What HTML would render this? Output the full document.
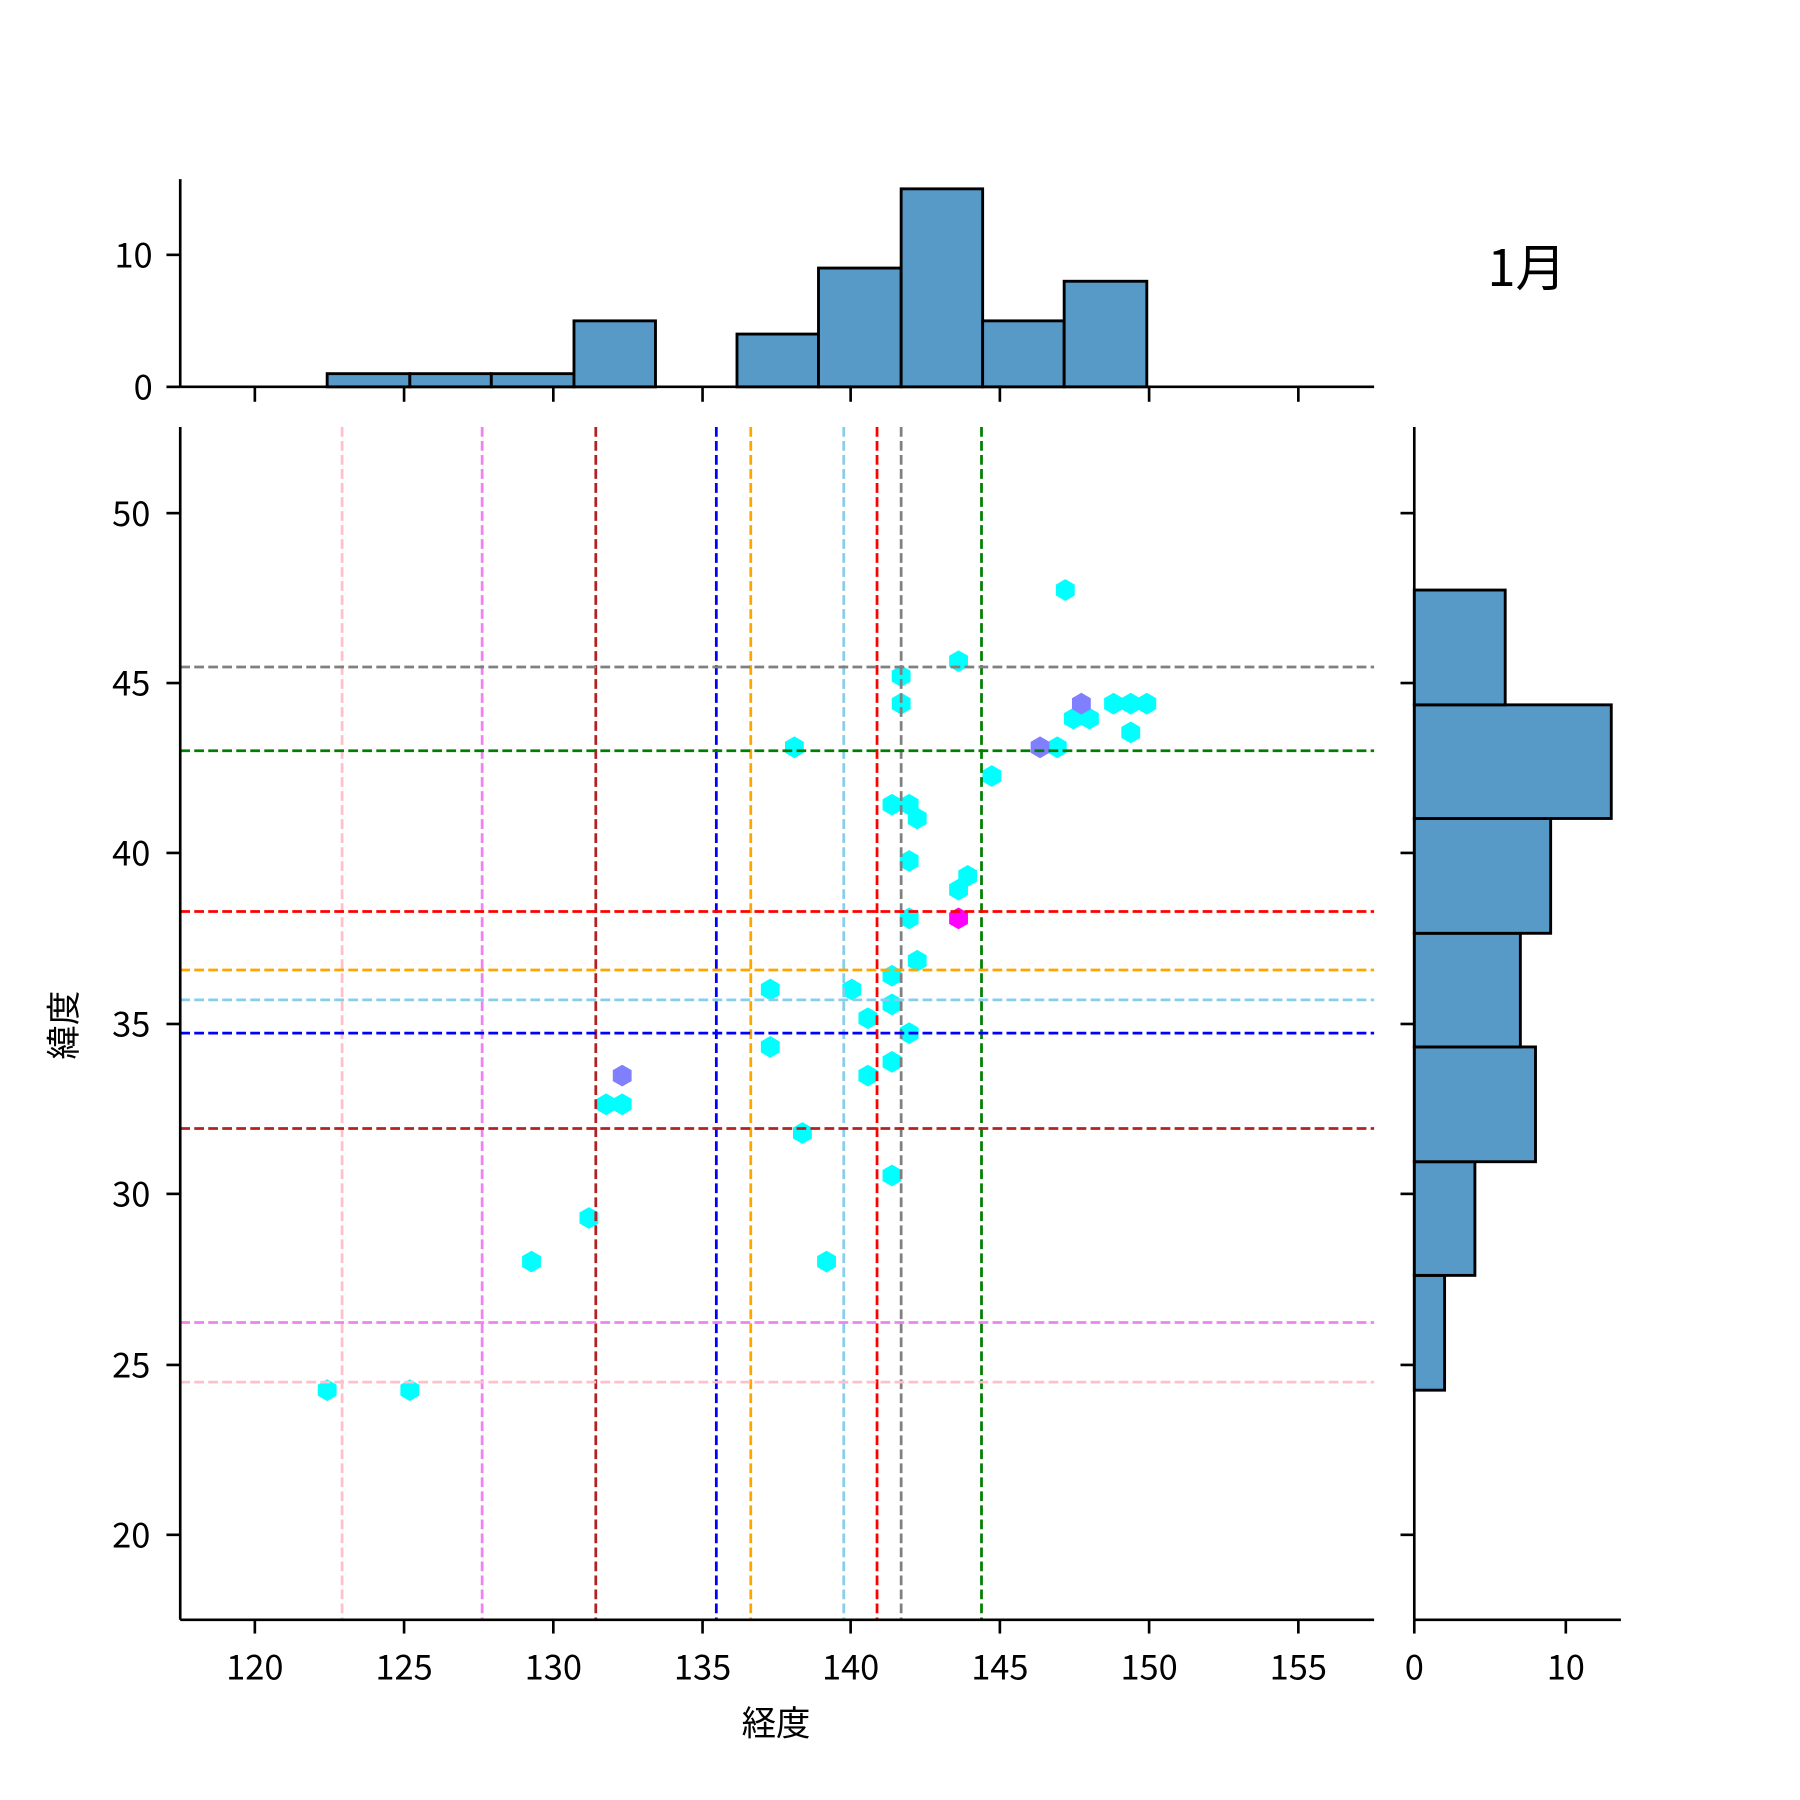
<!DOCTYPE html>
<html><head><meta charset="utf-8"><style>html,body{margin:0;padding:0;background:#fff}svg{display:block}</style></head>
<body>
<svg width="1800" height="1800" viewBox="0 0 1568 1568" xmlns="http://www.w3.org/2000/svg" font-family="Noto Sans CJK JP, Liberation Sans, sans-serif">
<defs>
<polygon id="h" points="0,-9.5 8.2,-4.75 8.2,4.75 0,9.5 -8.2,4.75 -8.2,-4.75"/>
</defs>
<rect width="1568" height="1568" fill="#fff"/>
<g fill="#5799c7" stroke="#000" stroke-width="2.5">
<rect x="285" y="325.5" width="72" height="11.5"/>
<rect x="357" y="325.5" width="71" height="11.5"/>
<rect x="428" y="325.5" width="72" height="11.5"/>
<rect x="500" y="279.5" width="71" height="57.5"/>
<rect x="642" y="291" width="71" height="46"/>
<rect x="713" y="233.5" width="72" height="103.5"/>
<rect x="785" y="164.5" width="71" height="172.5"/>
<rect x="856" y="279.5" width="71" height="57.5"/>
<rect x="927" y="245" width="72" height="92"/>
</g>
<g stroke="#000" stroke-width="2.3">
<line x1="157" y1="156" x2="157" y2="337"/>
<line x1="157" y1="337" x2="1197" y2="337"/>
<line x1="145" y1="337" x2="157" y2="337"/>
<line x1="145" y1="222" x2="157" y2="222"/>
<line x1="222" y1="337" x2="222" y2="350"/><line x1="352" y1="337" x2="352" y2="350"/><line x1="482" y1="337" x2="482" y2="350"/><line x1="612" y1="337" x2="612" y2="350"/><line x1="741" y1="337" x2="741" y2="350"/><line x1="871" y1="337" x2="871" y2="350"/><line x1="1001" y1="337" x2="1001" y2="350"/><line x1="1131" y1="337" x2="1131" y2="350"/>
</g>
<g font-size="30" text-anchor="end" fill="#000">
<text x="133" y="348">0</text><text x="133" y="233">10</text>
</g>
<text x="1330" y="249" font-size="44" text-anchor="middle">1月</text>
<g fill="#5799c7" stroke="#000" stroke-width="2.5">
<rect x="1232" y="1111" width="26.4" height="100"/>
<rect x="1232" y="1012" width="52.8" height="99"/>
<rect x="1232" y="912" width="105.6" height="100"/>
<rect x="1232" y="813" width="92.4" height="99"/>
<rect x="1232" y="713" width="118.8" height="100"/>
<rect x="1232" y="614" width="171.6" height="99"/>
<rect x="1232" y="514" width="79.2" height="100"/>
</g>
<g stroke="#000" stroke-width="2.3">
<line x1="1232" y1="372" x2="1232" y2="1411"/>
<line x1="1232" y1="1411" x2="1412" y2="1411"/>
<line x1="1232" y1="1411" x2="1232" y2="1423"/><line x1="1364" y1="1411" x2="1364" y2="1423"/>
<line x1="1220" y1="447" x2="1232" y2="447"/><line x1="1220" y1="595" x2="1232" y2="595"/><line x1="1220" y1="743" x2="1232" y2="743"/><line x1="1220" y1="892" x2="1232" y2="892"/><line x1="1220" y1="1040" x2="1232" y2="1040"/><line x1="1220" y1="1189" x2="1232" y2="1189"/><line x1="1220" y1="1337" x2="1232" y2="1337"/>
</g>
<g font-size="30" text-anchor="middle"><text x="1232" y="1463">0</text><text x="1364" y="1463">10</text></g>
<g fill="#00ffff">
<use href="#h" x="928" y="514"/><use href="#h" x="835" y="576"/><use href="#h" x="785" y="589"/><use href="#h" x="785" y="613"/>
<use href="#h" x="970" y="613"/><use href="#h" x="985" y="613"/><use href="#h" x="999" y="613"/>
<use href="#h" x="692" y="651"/><use href="#h" x="921" y="651"/><use href="#h" x="864" y="676"/>
<use href="#h" x="777" y="701"/><use href="#h" x="792" y="701"/><use href="#h" x="799" y="713"/><use href="#h" x="792" y="750"/>
<use href="#h" x="843" y="763"/><use href="#h" x="835" y="775"/><use href="#h" x="792" y="800"/><use href="#h" x="799" y="837"/>
<use href="#h" x="777" y="850"/><use href="#h" x="671" y="862"/><use href="#h" x="742" y="862"/><use href="#h" x="777" y="875"/>
<use href="#h" x="756" y="887"/><use href="#h" x="792" y="900"/><use href="#h" x="671" y="912"/><use href="#h" x="777" y="925"/>
<use href="#h" x="756" y="937"/><use href="#h" x="528" y="962"/><use href="#h" x="542" y="962"/><use href="#h" x="699" y="987"/>
<use href="#h" x="777" y="1024"/><use href="#h" x="513" y="1061"/><use href="#h" x="463" y="1099"/><use href="#h" x="720" y="1099"/>
<use href="#h" x="285" y="1211"/><use href="#h" x="357" y="1211"/>
</g>
<g fill="#00ffff"><use href="#h" x="935" y="626"/><use href="#h" x="949" y="626"/><use href="#h" x="985" y="638"/></g>
<g fill="#8080ff"><use href="#h" x="942" y="613"/><use href="#h" x="906" y="651"/><use href="#h" x="542" y="937"/></g>
<use href="#h" x="835" y="800" fill="#ff00ff"/>
<g stroke-width="2.4" stroke-dasharray="8.5,3.7" fill="none">
<line x1="298" y1="372" x2="298" y2="1411" stroke="pink"/>
<line x1="420" y1="372" x2="420" y2="1411" stroke="violet"/>
<line x1="519" y1="372" x2="519" y2="1411" stroke="firebrick"/>
<line x1="624" y1="372" x2="624" y2="1411" stroke="blue"/>
<line x1="654" y1="372" x2="654" y2="1411" stroke="orange"/>
<line x1="735" y1="372" x2="735" y2="1411" stroke="skyblue"/>
<line x1="764" y1="372" x2="764" y2="1411" stroke="red"/>
<line x1="785" y1="372" x2="785" y2="1411" stroke="gray"/>
<line x1="855" y1="372" x2="855" y2="1411" stroke="green"/>
<line x1="157" y1="581" x2="1197" y2="581" stroke="gray"/>
<line x1="157" y1="654" x2="1197" y2="654" stroke="green"/>
<line x1="157" y1="794" x2="1197" y2="794" stroke="red"/>
<line x1="157" y1="845" x2="1197" y2="845" stroke="orange"/>
<line x1="157" y1="871" x2="1197" y2="871" stroke="skyblue"/>
<line x1="157" y1="900" x2="1197" y2="900" stroke="blue"/>
<line x1="157" y1="983" x2="1197" y2="983" stroke="firebrick"/>
<line x1="157" y1="1152" x2="1197" y2="1152" stroke="violet"/>
<line x1="157" y1="1204" x2="1197" y2="1204" stroke="pink"/>
</g>
<g stroke="#000" stroke-width="2.3">
<line x1="157" y1="372" x2="157" y2="1411"/>
<line x1="157" y1="1411" x2="1197" y2="1411"/>
<line x1="222" y1="1411" x2="222" y2="1423"/><line x1="352" y1="1411" x2="352" y2="1423"/><line x1="482" y1="1411" x2="482" y2="1423"/><line x1="612" y1="1411" x2="612" y2="1423"/><line x1="741" y1="1411" x2="741" y2="1423"/><line x1="871" y1="1411" x2="871" y2="1423"/><line x1="1001" y1="1411" x2="1001" y2="1423"/><line x1="1131" y1="1411" x2="1131" y2="1423"/>
<line x1="145" y1="447" x2="157" y2="447"/><line x1="145" y1="595" x2="157" y2="595"/><line x1="145" y1="743" x2="157" y2="743"/><line x1="145" y1="892" x2="157" y2="892"/><line x1="145" y1="1040" x2="157" y2="1040"/><line x1="145" y1="1189" x2="157" y2="1189"/><line x1="145" y1="1337" x2="157" y2="1337"/>
</g>
<g font-size="30" text-anchor="middle">
<text x="222" y="1463">120</text><text x="352" y="1463">125</text><text x="482" y="1463">130</text><text x="612" y="1463">135</text><text x="741" y="1463">140</text><text x="871" y="1463">145</text><text x="1001" y="1463">150</text><text x="1131" y="1463">155</text>
</g>
<g font-size="30" text-anchor="end">
<text x="131" y="458">50</text><text x="131" y="606">45</text><text x="131" y="754">40</text><text x="131" y="903">35</text><text x="131" y="1051">30</text><text x="131" y="1200">25</text><text x="131" y="1348">20</text>
</g>
<text x="676" y="1512" font-size="30" text-anchor="middle">経度</text>
<text transform="translate(66,893) rotate(-90)" font-size="30" text-anchor="middle">緯度</text>
</svg>
</body></html>
